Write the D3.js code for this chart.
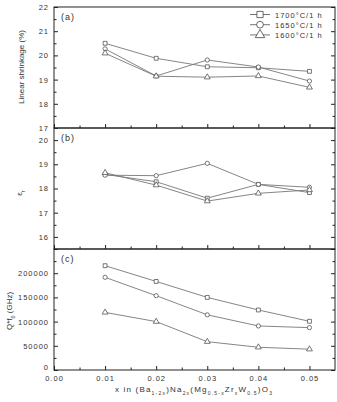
<!DOCTYPE html>
<html>
<head>
<meta charset="utf-8">
<script src="https://cdn.jsdelivr.net/npm/d3@7"></script>
<style>
  body { margin: 0; background: #fff; }
  text { font-family: "Liberation Sans", Arial, sans-serif; fill: #333; }
</style>
</head>
<body>
<script>
// data
const xValues = [0.01, 0.02, 0.03, 0.04, 0.05]
const seriesNames = ['1700°C/1 h', '1650°C/1 h', '1600°C/1 h']

const shrink1700 = [20.5, 19.88, 19.53, 19.49, 19.34]
const shrink1650 = [20.27, 19.15, 19.81, 19.52, 18.94]
const shrink1600 = [20.09, 19.14, 19.1, 19.15, 18.68]

const eps1700 = [18.58, 18.28, 17.6, 18.17, 17.83]
const eps1650 = [18.55, 18.53, 19.04, 18.17, 18.05]
const eps1600 = [18.65, 18.14, 17.48, 17.8, 17.94]

const qf1700 = [215500, 183000, 150000, 124000, 100600]
const qf1650 = [191500, 153500, 114000, 91000, 87500]
const qf1600 = [119000, 100000, 58500, 47000, 43000]

const xTicks = [0, 0.01, 0.02, 0.03, 0.04, 0.05]

// afmetingen
const W = 337, H = 402
const left = 54, right = 335
const panelTops = [7, 128, 249]
const panelH = 121

const svg = d3.select('body').append('svg').attr('width', W).attr('height', H)

const x = d3.scaleLinear().domain([0, 0.055]).range([left, right])

const panels = [
  { label: '(a)', domain: [17, 22], ticks: d3.range(17, 22.01, 1), minor: d3.range(17.5, 22, 1), fmt: d3.format('d'),
    series: [shrink1700, shrink1650, shrink1600] },
  { label: '(b)', domain: [15.5, 20.5], ticks: d3.range(16, 20.01, 1), minor: d3.range(15.5, 20.6, 1), fmt: d3.format('d'),
    series: [eps1700, eps1650, eps1600] },
  { label: '(c)', domain: [0, 250000], ticks: d3.range(0, 250001, 50000), minor: d3.range(25000, 250000, 50000), fmt: d3.format('d'),
    series: [qf1700, qf1650, qf1600] }
]

const symbols = [d3.symbolSquare, d3.symbolCircle, d3.symbolTriangle]
const symSizes = [15, 14, 15]

panels.forEach((p, i) => {
  const top = panelTops[i]
  const y = d3.scaleLinear().domain(p.domain).range([top + panelH, top])
  const g = svg.append('g')

  // kader
  g.append('rect').attr('x', left).attr('y', top).attr('width', right - left).attr('height', panelH)
    .attr('fill', 'none').attr('stroke', '#222').attr('stroke-width', 1)

  // y as links
  const yAxis = g.append('g').attr('transform', `translate(${left},0)`)
    .call(d3.axisLeft(y).tickValues(p.ticks).tickFormat(p.fmt).tickSize(-4).tickPadding(5))
  yAxis.select('.domain').remove()
  yAxis.selectAll('text').style('font-size', '7.5px').style('letter-spacing', '1px').attr('fill', '#333')
  if (i > 0) yAxis.selectAll('.tick').filter(d => d === p.domain[1]).select('text').remove()
  if (i === 2) yAxis.selectAll('.tick').filter(d => d === 0).select('text').attr('dy', '-0.1em')
  g.append('g').attr('transform', `translate(${left},0)`)
    .call(d3.axisLeft(y).tickValues(p.minor).tickFormat('').tickSize(-2.5))
    .select('.domain').remove()

  // y as rechts
  g.append('g').attr('transform', `translate(${right},0)`)
    .call(d3.axisRight(y).tickValues(p.ticks).tickFormat('').tickSize(-4))
    .select('.domain').remove()
  g.append('g').attr('transform', `translate(${right},0)`)
    .call(d3.axisRight(y).tickValues(p.minor).tickFormat('').tickSize(-2.5))
    .select('.domain').remove()

  // x as onder
  const xa = g.append('g').attr('transform', `translate(0,${top + panelH})`)
    .call(d3.axisBottom(x).tickValues(xTicks).tickFormat(i === 2 ? d3.format('.2f') : '').tickSize(-4).tickPadding(6))
  xa.select('.domain').remove()
  xa.selectAll('text').style('font-size', '7.5px').style('letter-spacing', '1px').attr('fill', '#333')
  g.append('g').attr('transform', `translate(0,${top + panelH})`)
    .call(d3.axisBottom(x).tickValues(d3.range(0.005, 0.055, 0.01)).tickFormat('').tickSize(-2.5))
    .select('.domain').remove()

  g.selectAll('.tick line').attr('stroke', '#222')

  // panel label
  g.append('text').attr('x', left + 7).attr('y', top + 13).text(p.label)
    .style('font-size', '9px').style('letter-spacing', '1px')

  // lijnen en markers
  const line = d3.line().x((d, j) => x(xValues[j])).y(d => y(d))
  p.series.forEach((s, k) => {
    g.append('path').datum(s).attr('d', line).attr('fill', 'none')
      .attr('stroke', '#777').attr('stroke-width', 0.9)
    g.selectAll('.m' + k).data(s).join('path').attr('class', 'm' + k)
      .attr('transform', (d, j) => `translate(${x(xValues[j])},${y(d)})`)
      .attr('d', d3.symbol().type(symbols[k]).size(symSizes[k]))
      .attr('fill', '#fff').attr('stroke', '#555').attr('stroke-width', 0.8)
  })
})

// legenda
const legend = svg.append('g')
seriesNames.forEach((name, k) => {
  const ly = 14.5 + k * 10.2
  legend.append('line').attr('x1', 250).attr('x2', 270).attr('y1', ly).attr('y2', ly)
    .attr('stroke', '#666').attr('stroke-width', 0.9)
  legend.append('path').attr('transform', `translate(260,${ly})`)
    .attr('d', d3.symbol().type(symbols[k]).size(symSizes[k] * 2.6))
    .attr('fill', '#fff').attr('stroke', '#444').attr('stroke-width', 0.8)
  legend.append('text').attr('x', 275).attr('y', ly + 3).text(name)
    .style('font-size', '7.5px').style('letter-spacing', '1px')
})

// as titels
svg.append('text').attr('transform', 'translate(24,67) rotate(-90)').attr('text-anchor', 'middle')
  .style('font-size', '8px').text('Linear shrinkage (%)')

const eps = svg.append('text').attr('transform', 'translate(22,193) rotate(-90)').attr('text-anchor', 'middle')
  .style('font-size', '8px')
eps.append('tspan').text('ε')
eps.append('tspan').attr('dy', 3).style('font-size', '5.5px').text('r')

const qf = svg.append('text').attr('transform', 'translate(12,311) rotate(-90)').attr('text-anchor', 'middle')
  .style('font-size', '8px')
qf.append('tspan').text('Q*f')
qf.append('tspan').attr('dy', 3).style('font-size', '5.5px').text('0')
qf.append('tspan').attr('dy', -3).text(' (GHz)')

// x as titel met subscripts
const parts = [
  ['x in (Ba', false], ['1-2x', true], [')Na', false], ['2x', true], ['(Mg', false], ['0.5-x', true],
  ['Zr', false], ['x', true], ['W', false], ['0.5', true], [')O', false], ['3', true]
]
const xt = svg.append('text').attr('x', 194).attr('y', 392).attr('text-anchor', 'middle')
  .style('font-size', '8px').style('letter-spacing', '1.2px')
let sub = false
parts.forEach(([t, s]) => {
  const dy = s === sub ? 0 : (s ? 2.5 : -2.5)
  xt.append('tspan').attr('dy', dy).style('font-size', s ? '5px' : '8px').text(t)
  sub = s
})
</script>
</body>
</html>
